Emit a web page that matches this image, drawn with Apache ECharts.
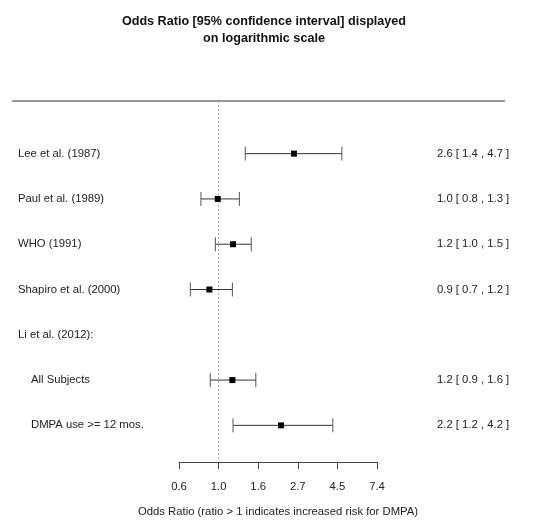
<!DOCTYPE html>
<html>
<head>
<meta charset="utf-8">
<script src="https://cdn.jsdelivr.net/npm/echarts@6/dist/echarts.min.js"></script>
<style>
  html, body { margin: 0; padding: 0; background: #fff; }
  #main { width: 538px; height: 530px; }
</style>
</head>
<body>
<div id="main"></div>
<script>
// studies, top to bottom
const studies = ['Lee et al. (1987)', 'Paul et al. (1989)', 'WHO (1991)', 'Shapiro et al. (2000)',
  'Li et al. (2012):', 'All Subjects', 'DMPA use >= 12 mos.'];
const subRows = [false, false, false, false, false, true, true];
// odds ratio and 95% CI (null = heading row without an estimate)
const oddsRatio = [2.59, 0.99, 1.20, 0.89, null, 1.19, 2.20];
const ciLow = [1.40, 0.80, 0.96, 0.70, null, 0.90, 1.20];
const ciHigh = [4.74, 1.30, 1.51, 1.19, null, 1.60, 4.23];
// tick positions on log scale (natural log)
const logTicks = [-0.5, 0, 0.5, 1, 1.5, 2];

const rightLabels = oddsRatio.map((v, i) => v == null ? '' :
  v.toFixed(1) + ' [ ' + ciLow[i].toFixed(1) + ' , ' + ciHigh[i].toFixed(1) + ' ]');

const barData = [];
oddsRatio.forEach((v, i) => {
  if (v == null) return;
  barData.push([Math.log(v), Math.log(ciLow[i]), Math.log(ciHigh[i]), i]);
});

const chart = echarts.init(document.getElementById('main'));

const font = 'Liberation Sans, Arial, sans-serif';
const fs = 11.3;

chart.setOption({
  animation: false,
  backgroundColor: '#fff',
  title: {
    text: 'Odds Ratio [95% confidence interval] displayed\non logarithmic scale',
    left: 259,
    textAlign: 'center',
    top: 8,
    textStyle: { fontFamily: font, fontSize: 12.6, fontWeight: 'bold', color: '#111', lineHeight: 17 }
  },
  grid: { left: 179, right: 161, top: 131, height: 317 },
  xAxis: {
    type: 'value',
    min: logTicks[0],
    max: logTicks[logTicks.length - 1],
    interval: 0.5,
    offset: 14,
    splitLine: { show: false },
    axisLine: { show: true, onZero: false, lineStyle: { color: '#444', width: 1 } },
    axisTick: { show: true, length: 7, lineStyle: { color: '#444' } },
    axisLabel: {
      formatter: v => Math.exp(v).toFixed(1),
      fontFamily: font, fontSize: fs, color: '#222', margin: 19
    },
    name: 'Odds Ratio (ratio > 1 indicates increased risk for DMPA)',
    nameLocation: 'middle',
    nameGap: 44,
    nameTextStyle: { fontFamily: font, fontSize: fs, color: '#222' }
  },
  yAxis: [{
    type: 'category',
    data: studies,
    inverse: true,
    axisLine: { show: false },
    axisTick: { show: false },
    axisLabel: {
      align: 'left',
      margin: 161,
      fontFamily: font, fontSize: fs, color: '#222',
      formatter: (v, i) => subRows[i] ? '{sub|' + v + '}' : v,
      rich: { sub: { padding: [0, 0, 0, 13], fontFamily: font, fontSize: fs, color: '#222' } }
    }
  }, {
    type: 'category',
    data: rightLabels,
    inverse: true,
    position: 'right',
    axisLine: { show: false },
    axisTick: { show: false },
    axisLabel: { margin: 60, fontFamily: font, fontSize: fs, color: '#222' }
  }],
  graphic: [{
    type: 'line',
    shape: { x1: 12, y1: 101, x2: 505, y2: 101 },
    style: { stroke: '#333', lineWidth: 1 }
  }],
  series: [{
    // reference line at OR = 1
    type: 'custom',
    clip: false,
    silent: true,
    data: [[0]],
    renderItem: (params, api) => {
      const cs = params.coordSys;
      const x = api.coord([api.value(0), 0])[0];
      return {
        type: 'line',
        shape: { x1: x, y1: cs.y - 30, x2: x, y2: cs.y + cs.height + 14 },
        style: { stroke: '#aaa', lineWidth: 1, lineDash: [2, 2] }
      };
    }
  }, {
    type: 'custom',
    clip: false,
    silent: true,
    encode: { x: [0, 1, 2], y: 3 },
    data: barData,
    renderItem: (params, api) => {
      const p = api.coord([api.value(0), api.value(3)]);
      const lo = api.coord([api.value(1), api.value(3)]);
      const hi = api.coord([api.value(2), api.value(3)]);
      const cap = 7, s = 6;
      return {
        type: 'group',
        children: [{
          type: 'line',
          shape: { x1: lo[0], y1: p[1], x2: hi[0], y2: p[1] },
          style: { stroke: '#333', lineWidth: 1 }
        }, {
          type: 'line',
          shape: { x1: lo[0], y1: p[1] - cap, x2: lo[0], y2: p[1] + cap },
          style: { stroke: '#555', lineWidth: 1 }
        }, {
          type: 'line',
          shape: { x1: hi[0], y1: p[1] - cap, x2: hi[0], y2: p[1] + cap },
          style: { stroke: '#555', lineWidth: 1 }
        }, {
          type: 'rect',
          shape: { x: p[0] - s / 2, y: p[1] - s / 2, width: s, height: s },
          style: { fill: '#000' }
        }]
      };
    }
  }]
});
</script>
</body>
</html>
